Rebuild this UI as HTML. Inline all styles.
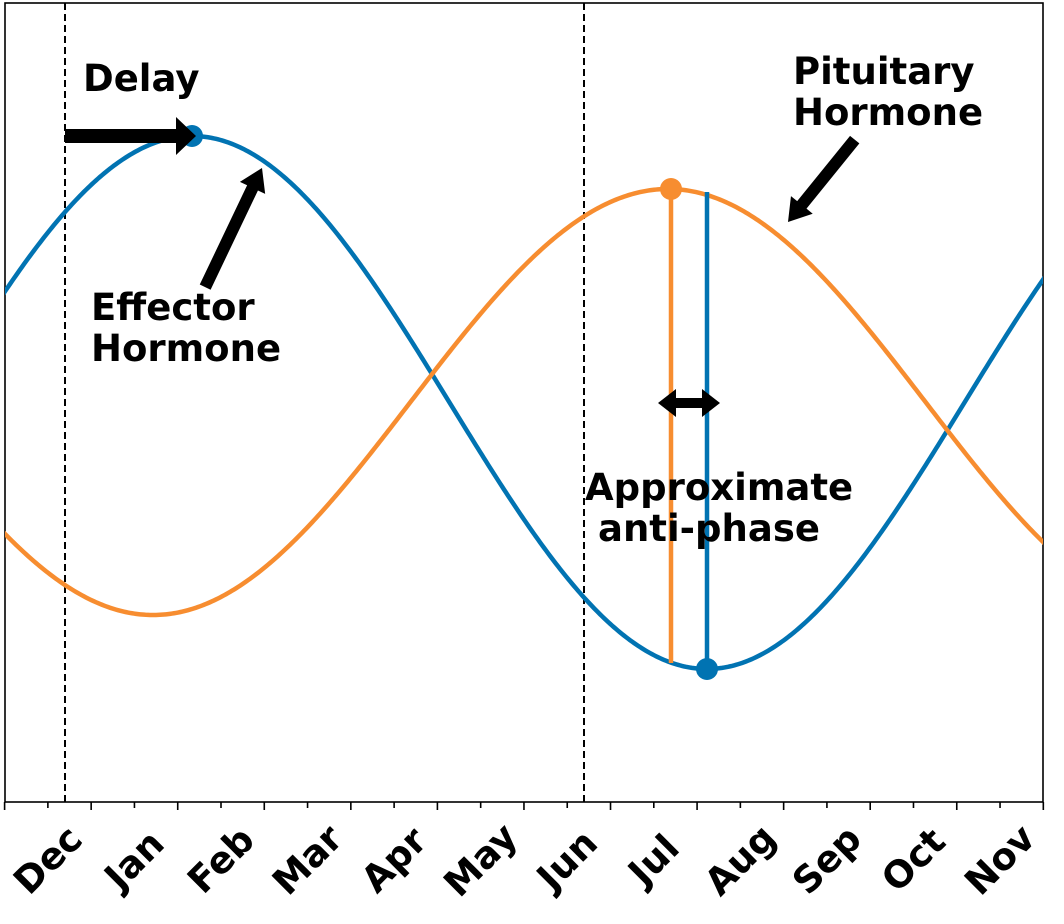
<!DOCTYPE html>
<html><head><meta charset="utf-8"><style>
html,body{margin:0;padding:0;background:#fff;width:1064px;height:924px;overflow:hidden}
text{font-family:"DejaVu Sans","Liberation Sans",sans-serif;font-weight:bold;fill:#000}
</style></head><body>
<svg id="s" width="1064" height="924" xmlns="http://www.w3.org/2000/svg">
<defs><clipPath id="c"><rect x="5" y="3" width="1038" height="799"/></clipPath></defs>
<rect x="5" y="3" width="1038" height="799" fill="none" stroke="#000" stroke-width="1.6"/>
<line x1="65" y1="3" x2="65" y2="802" stroke="#000" stroke-width="2" stroke-dasharray="7,4"/>
<line x1="584" y1="3" x2="584" y2="802" stroke="#000" stroke-width="2" stroke-dasharray="7,4"/>
<g clip-path="url(#c)">
<path id="blue" fill="none" stroke="#0173b2" stroke-width="4.5"/>
<path id="orange" fill="none" stroke="#f78d30" stroke-width="4.5"/>
</g>
<line x1="671" y1="189" x2="671" y2="663" stroke="#f78d30" stroke-width="4.5"/>
<line x1="707" y1="192" x2="707" y2="669" stroke="#0173b2" stroke-width="4.5"/>
<circle cx="192" cy="136" r="11" fill="#0173b2"/>
<circle cx="671" cy="189" r="11" fill="#f78d30"/>
<circle cx="707" cy="669" r="11" fill="#0173b2"/>
<polygon points="65,129 176,129 176,117 196,136 176,155 176,143 65,143" fill="#000"/>
<g transform="translate(262,168) rotate(115.5)"><polygon points="0,0 22,-14 22,-6 132,-6 132,6 22,6 22,14" fill="#000"/></g>
<g transform="translate(788,222) rotate(-51)"><polygon points="0,0 22,-14 22,-6 106,-6 106,6 22,6 22,14" fill="#000"/></g>
<polygon points="658,403 676,389 676,398 702,398 702,389 720,403 702,417 702,408 676,408 676,417" fill="#000"/>
<text x="83" y="91" font-size="37">Delay</text>
<text x="91" y="320" font-size="37">Effector</text>
<text x="91" y="361" font-size="37">Hormone</text>
<text x="793" y="84" font-size="37">Pituitary</text>
<text x="793" y="125" font-size="37">Hormone</text>
<text x="585" y="500" font-size="37">Approximate</text>
<text x="598" y="541" font-size="37">anti-phase</text>
<g id="ticks" stroke="#000" stroke-width="1.6"></g>
<g id="labels"></g>
</svg>
<script>
function path(px,amp,cy,phaseX){var d="";for(var x=0;x<=1050;x+=2){var y=cy-amp*Math.cos((x-phaseX)/px*2*Math.PI);d+=(x?"L":"M")+x+","+y.toFixed(2);}return d;}
document.getElementById("blue").setAttribute("d",path(1030,266.5,402.5,192));
document.getElementById("orange").setAttribute("d",path(1030,213,402,668));
var ns="http://www.w3.org/2000/svg",t=document.getElementById("ticks"),L=document.getElementById("labels");
var months=["Dec","Jan","Feb","Mar","Apr","May","Jun","Jul","Aug","Sep","Oct","Nov"];
for(var i=0;i<=24;i++){var x=4.6+i*43.28;var l=document.createElementNS(ns,"line");l.setAttribute("x1",x);l.setAttribute("x2",x);l.setAttribute("y1",802);l.setAttribute("y2",i%2?808:810);t.appendChild(l);}
for(var j=0;j<12;j++){var cx=4.6+(2*j+1)*43.28,cy=860;var e=document.createElementNS(ns,"text");e.setAttribute("font-size","37");e.setAttribute("text-anchor","middle");e.setAttribute("dominant-baseline","central");e.setAttribute("transform","translate("+cx+","+cy+") rotate(-45)");e.textContent=months[j];L.appendChild(e);}
</script>
</body></html>
